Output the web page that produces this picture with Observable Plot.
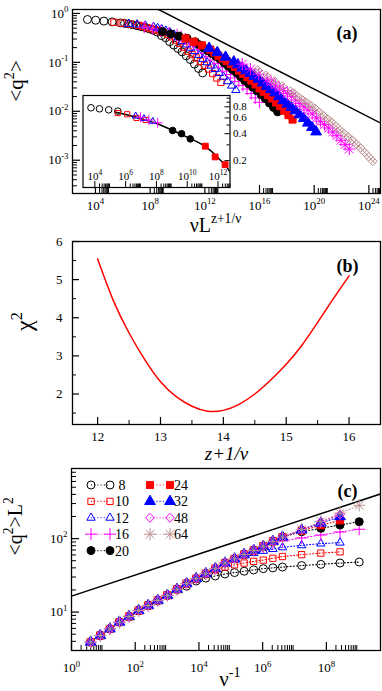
<!DOCTYPE html>
<html><head><meta charset="utf-8">
<script src="https://cdn.jsdelivr.net/npm/d3@7"></script>
<script src="https://cdn.jsdelivr.net/npm/@observablehq/plot@0.6"></script>
<style>
html,body{margin:0;padding:0;background:#fff;}
#chart{position:relative;width:382px;height:691px;background:#fff;overflow:hidden;font-family:"Liberation Serif",serif;}
#chart svg{position:absolute;left:0;overflow:visible;font-family:"Liberation Serif",serif;}
#chart svg text{font-family:"Liberation Serif",serif;}
</style></head><body><div id="chart"></div>
<script>
// ================= DATA =================
// inverse sweep rate v^-1 (x of panel c)
const vInv = [4,8,16,32,64,128,256,512,1024,2048,4096,8192,16384,32768,65536,131072,262144,524288,1048576,2097152,4194304,16777216,67108864,268435456,1073741824];
// <q^2> L^2 for each system size L (panel c)
const q8  = [3.9,4.8,5.9,7.3,8.7,10.5,12.3,14.4,16.9,20.4,22.5,26.5,29,31,33,34.5,36,37.5,39,40,41,43,44.6,46.5,48];
const q10 = [3.9,4.8,5.9,7.3,8.7,10.5,12.3,14.4,16.9,20.4,24.4,28.5,33.3,37.5,41,44,46.5,49,51,54,57,60.5,63.5,66];
const q12 = [3.9,4.8,5.9,7.3,8.7,10.5,12.3,14.4,16.9,20.4,24.4,28.5,33.3,39,46.5,53,58.5,63.5,68,72,76,81,85.5,88];
const q16 = [3.9,4.8,5.9,7.3,8.7,10.5,12.3,14.4,16.9,20.4,24.4,28.5,33.3,39,46.5,53,61,69,77,86,93,102,112,123,134];
const q20 = [3.9,4.8,5.9,7.3,8.7,10.5,12.3,14.4,16.9,20.4,24.4,28.5,33.3,39,46.5,53,61,69,78.6,91.6,105,124,138,153,170];
const q24 = [3.9,4.8,5.9,7.3,8.7,10.5,12.3,14.4,16.9,20.4,24.4,28.5,33.3,39,46.5,53,61,69,78.6,91.6,105,128,152,177];
const q32 = [3.9,4.8,5.9,7.3,8.7,10.5,12.3,14.4,16.9,20.4,24.4,28.5,33.3,39,46.5,53,61,69,78.6,91.6,105,131,163,199];
const q48 = [3.9,4.8,5.9,7.3,8.7,10.5,12.3,14.4,16.9,20.4,24.4,28.5,33.3,39,46.5,53,61,69,78.6,91.6,105,132,168,212];
const q64 = [3.9,4.8,5.9,7.3,8.7,10.5,12.3,14.4,16.9,20.4,24.4,28.5,33.3,39,46.5,53,61,69,78.6,91.6,105,133,170,222,284];
const sizesL = [8,10,12,16,20,24,32,48,64];
// exponent z+1/nu at the chi^2 minimum (panel b), used for the panel (a) abscissa
const zPlus = 13.78;
// panel b: chi^2 vs z+1/nu
const chiX = [12,12.25,12.5,12.75,13,13.25,13.5,13.75,14,14.25,14.5,14.75,15,15.25,15.5,15.75,16];
const chiY = [5.54,4.45,3.6,2.9,2.32,1.93,1.68,1.55,1.57,1.73,2.0,2.36,2.78,3.28,3.88,4.5,5.1];
// inset of panel a
const in8x  = [5.6e3,2.0e4,7.9e4,3.1e5],   in8y  = [0.78,0.76,0.74,0.715];
const in10x = [3.1e5,1.26e6,5.1e6,2.0e7],  in10y = [0.68,0.66,0.60,0.57];
const in12x = [4.5e6,1.55e7,5.8e7],        in12y = [0.63,0.59,0.55];
const in16x = [9.3e6,3.2e7,1.2e8],         in16y = [0.61,0.57,0.53];
const in20x = [1.12e9,4.3e9,1.58e10],      in20y = [0.435,0.40,0.35];
const in24x = [1.5e11,6.5e11,2.9e12],      in24y = [0.29,0.22,0.18];
const fitX = [2e5,1e6,1e7,1e8,1e9,1e10,1e11,3.2e11,1e12,3.2e12,6e12];
const fitY = [0.70,0.655,0.59,0.52,0.44,0.365,0.30,0.26,0.215,0.175,0.15];
// power-law guide lines (slope -1/7 in a, +1/7 in c)
const lineAX = [Math.pow(10,2.32), Math.pow(10,24.85)], lineAY = [Math.pow(10,0.98), Math.pow(10,-2.24)];
const lineCX = [1, 5e9], lineCY = [16.5, 405];
// tick values
const aTicksX = [1e4,1e8,1e12,1e16,1e20,1e24];
const aTicksY = [1e-3,1e-2,1e-1,1];
const insetTicksX = [1e4,1e6,1e8,1e10,1e12];
const insetTicksY = [0.2,0.4,0.6,0.8];
const bTicksX = [12,13,14,15,16];
const bTicksY = [2,3,4,5,6];
const cTicksX = [1,1e2,1e4,1e6,1e8];
const cTicksY = [10,100];
const legendCols = [[8,10,12,16,20],[24,32,48,64]];

// ================= STYLES =================
const FONT = "Liberation Serif";
const BROWN = "#bc8f8f";
const styleC = {
  8:{color:"#000",sym:"circle",fill:false}, 10:{color:"#f00",sym:"square2",fill:false},
  12:{color:"#00f",sym:"triangle2",fill:false}, 16:{color:"#f0f",sym:"plus",fill:false},
  20:{color:"#000",sym:"circle",fill:true}, 24:{color:"#f00",sym:"square",fill:true},
  32:{color:"#00f",sym:"triangle",fill:true}, 48:{color:"#f0f",sym:"diamond2",fill:false},
  64:{color:BROWN,sym:"star8",fill:false}
};
const styleA = Object.assign({}, styleC, {48:{color:"#f0f",sym:"star8",fill:false}, 64:{color:BROWN,sym:"diamondx",fill:false}});

const qBySize = [q8,q10,q12,q16,q20,q24,q32,q48,q64];
const series = sizesL.map((L, j) => ({
  L,
  rows: qBySize[j].map((c, i) => ({vinv: vInv[i], c, xs: Math.pow(L, zPlus) / vInv[i], q2: c / (L * L)}))
}));
const zipXY = (xs, ys) => xs.map((x, i) => ({x, y: ys[i]}));

const exp10 = d => "10^" + Math.round(Math.log10(d));
const minors = (majors, lo, hi) => majors.flatMap(m => [2,3,4,5,6,7,8,9].map(k => k * m)).filter(v => v > lo && v < hi);
const T = {fontFamily: FONT};

function symMarks(data, xk, yk, st, r) {
  const base = {x: xk, y: yk, r, stroke: st.color, strokeWidth: 1};
  if (st.sym === "star8") return [Plot.dot(data, {...base, symbol: "plus", fill: "none"}), Plot.dot(data, {...base, symbol: "times", fill: "none"})];
  if (st.sym === "diamondx") return [Plot.dot(data, {...base, symbol: "diamond2", fill: "none"}), Plot.dot(data, {...base, r: r * 0.6, symbol: "times", fill: "none"})];
  return [Plot.dot(data, {...base, symbol: st.sym, fill: st.fill ? st.color : "none"})];
}

function supify(svg) {
  const NS = "http://www.w3.org/2000/svg";
  svg.querySelectorAll("text").forEach(t => {
    if (t.children.length) return;
    const s = t.textContent;
    if (s.indexOf("^") < 0) return;
    const re = /\^\{([^}]*)\}|\^(-?\d+)/g;
    let last = 0, m, up = false;
    t.textContent = "";
    const push = (txt, sup) => {
      const sp = document.createElementNS(NS, "tspan");
      sp.textContent = txt;
      if (sup) { sp.style.fontSize = "68%"; sp.setAttribute("dy", "-0.62em"); up = true; }
      else if (up) { sp.setAttribute("dy", "0.42em"); up = false; }
      t.appendChild(sp);
    };
    while ((m = re.exec(s))) {
      if (m.index > last) push(s.slice(last, m.index), false);
      push(m[1] !== undefined ? m[1] : m[2], true);
      last = re.lastIndex;
    }
    if (last < s.length) push(s.slice(last), false);
  });
}

const chart = document.getElementById("chart");
function place(svg, top, left) {
  svg.style.top = top + "px";
  svg.style.left = (left || 0) + "px";
  supify(svg);
  chart.appendChild(svg);
  return svg;
}
const baseStyle = size => ({fontFamily: FONT, fontSize: size + "px", background: "transparent", color: "black", overflow: "visible"});

// ================= PANEL A =================
const aX = [Math.pow(10,2.32), Math.pow(10,24.85)], aY = [Math.pow(10,-3.68), Math.pow(10,0.08)];
const aFH = 184, aFW = 308;
const plotA = Plot.plot({
  width: 382, height: 238, marginLeft: 72, marginRight: 2, marginTop: 9, marginBottom: 45,
  x: {type: "log", domain: aX, axis: null},
  y: {type: "log", domain: aY, axis: null},
  style: baseStyle(13),
  marks: [
    Plot.tickX(aTicksX, {x: d => d, insetTop: aFH - 8, strokeWidth: 1.2}),
    Plot.tickX(minors(aTicksX, aX[0], aX[1]), {x: d => d, insetTop: aFH - 5}),
    Plot.tickY(aTicksY, {y: d => d, insetRight: aFW - 8, strokeWidth: 1.2}),
    Plot.tickY(minors([1e-4,1e-3,1e-2,1e-1], aY[0], aY[1]), {y: d => d, insetRight: aFW - 5}),
    Plot.axisX({ticks: aTicksX, tickSize: 0, tickPadding: 7, tickFormat: exp10, label: null, ...T}),
    Plot.axisY({ticks: aTicksY, tickSize: 0, tickPadding: 4, tickFormat: exp10, label: null, ...T}),
    Plot.line(zipXY(lineAX, lineAY), {x: "x", y: "y", clip: true, stroke: "black", strokeWidth: 1.5}),
    ...series.flatMap(s => symMarks(s.rows, "xs", "q2", styleA[s.L], 4)),
    Plot.frame({stroke: "black", strokeWidth: 1.3}),
    Plot.text(["<q^{2}>"], {frameAnchor: "left", dx: -56, rotate: -90, fontSize: 21, text: d => d, ...T}),
    Plot.text(["νL^{z+1/ν}"], {frameAnchor: "bottom", dx: -11, dy: 38, fontSize: 20, text: d => d, ...T}),
    Plot.text(["(a)"], {frameAnchor: "top-right", dx: -23, dy: 17, fontSize: 18, fontWeight: "bold", text: d => d, ...T})
  ]
});
place(plotA, 0);

// inset
const iX = [Math.pow(10,3.23), Math.pow(10,12.78)], iY = [0.1, 1.07];
const iFW = 147, iFH = 92;
const plotI = Plot.plot({
  width: 1.5 + iFW + 22.5, height: 2 + iFH + 2, marginLeft: 1.5, marginRight: 22.5, marginTop: 2, marginBottom: 2,
  x: {type: "log", domain: iX, axis: null},
  y: {type: "log", domain: iY, axis: null},
  style: baseStyle(11),
  marks: [
    Plot.frame({fill: "white", stroke: "none"}),
    Plot.tickX(insetTicksX, {x: d => d, insetTop: iFH - 6}),
    Plot.tickX(minors(insetTicksX, iX[0], iX[1]), {x: d => d, insetTop: iFH - 3.5}),
    Plot.tickY(insetTicksY, {y: d => d, insetLeft: iFW - 5}),
    Plot.tickY([0.3,0.5,0.7,0.9,1.0], {y: d => d, insetLeft: iFW - 3}),
    Plot.axisY({anchor: "right", ticks: insetTicksY, tickSize: 0, tickPadding: 3, tickFormat: d => d.toFixed(1), label: null, ...T}),
    Plot.text(insetTicksX, {x: d => d, frameAnchor: "bottom", dy: -8, text: exp10, ...T}),
    Plot.line(zipXY(fitX, fitY), {x: "x", y: "y", clip: true, stroke: "black", strokeWidth: 1.5, curve: "monotone-x"}),
    ...symMarks(zipXY(in8x, in8y), "x", "y", styleC[8], 3.3),
    ...symMarks(zipXY(in10x, in10y), "x", "y", styleC[10], 3.3),
    ...symMarks(zipXY(in12x, in12y), "x", "y", styleC[12], 3.3),
    ...symMarks(zipXY(in16x, in16y), "x", "y", styleC[16], 3.3),
    ...symMarks(zipXY(in20x, in20y), "x", "y", styleC[20], 3.3),
    ...symMarks(zipXY(in24x, in24y), "x", "y", styleC[24], 3.3),
    Plot.frame({stroke: "black", strokeWidth: 1.2})
  ]
});
place(plotI, 93, 81);

// ================= PANEL B =================
const plotB = Plot.plot({
  width: 382, height: 228, marginLeft: 72, marginRight: 2, marginTop: 5, marginBottom: 40,
  x: {domain: [11.6, 16.5], axis: null},
  y: {domain: [1.2, 6], axis: null},
  style: baseStyle(13),
  marks: [
    Plot.tickX(bTicksX, {x: d => d, insetTop: 183 - 7, strokeWidth: 1.2}),
    Plot.tickX([12.5,13.5,14.5,15.5], {x: d => d, insetTop: 183 - 4}),
    Plot.tickY(bTicksY, {y: d => d, insetRight: 308 - 7, strokeWidth: 1.2}),
    Plot.tickY([1.5,2.5,3.5,4.5,5.5], {y: d => d, insetRight: 308 - 4}),
    Plot.axisX({ticks: bTicksX, tickSize: 0, tickPadding: 7, tickFormat: d => String(d), label: null, ...T}),
    Plot.axisY({ticks: bTicksY, tickSize: 0, tickPadding: 10, tickFormat: d => String(d), label: null, ...T}),
    Plot.line(zipXY(chiX, chiY), {x: "x", y: "y", stroke: "#ff0000", strokeWidth: 1.5, curve: "natural"}),
    Plot.frame({stroke: "black", strokeWidth: 1.3}),
    Plot.text(["χ^{2}"], {frameAnchor: "left", dx: -48, dy: -2, rotate: -90, fontSize: 24, text: d => d, ...T}),
    Plot.text(["z+1/ν"], {frameAnchor: "bottom", dy: 35, fontSize: 19, fontStyle: "italic", text: d => d, ...T}),
    Plot.text(["(b)"], {frameAnchor: "top-right", dx: -22, dy: 18, fontSize: 18, fontWeight: "bold", text: d => d, ...T})
  ]
});
place(plotB, 236);

// ================= PANEL C =================
const cX = [1, 5e9], cY = [3, 900];
const cFH = 182, cFW = 309;
const plotC = Plot.plot({
  width: 382, height: 229, marginLeft: 71, marginRight: 2, marginTop: 6, marginBottom: 41,
  x: {type: "log", domain: cX, axis: null},
  y: {type: "log", domain: cY, axis: null},
  style: baseStyle(13),
  marks: [
    Plot.tickX(cTicksX, {x: d => d, insetTop: cFH - 8, strokeWidth: 1.2}),
    Plot.tickX(minors(cTicksX, cX[0], cX[1]), {x: d => d, insetTop: cFH - 5}),
    Plot.tickY(cTicksY, {y: d => d, insetRight: cFW - 8, strokeWidth: 1.2}),
    Plot.tickY(minors([1,10,100], cY[0], cY[1]), {y: d => d, insetRight: cFW - 5}),
    Plot.axisX({ticks: cTicksX, tickSize: 0, tickPadding: 12.5, tickFormat: exp10, label: null, ...T}),
    Plot.axisY({ticks: cTicksY, tickSize: 0, tickPadding: 4, tickFormat: exp10, label: null, ...T}),
    Plot.line(zipXY(lineCX, lineCY), {x: "x", y: "y", clip: true, stroke: "black", strokeWidth: 1.5}),
    ...series.map(s => Plot.line(s.rows, {x: "vinv", y: "c", stroke: styleC[s.L].color, strokeWidth: 1.1, strokeDasharray: "1,2.2"})),
    ...series.flatMap(s => symMarks(s.rows, "vinv", "c", styleC[s.L], 4)),
    Plot.frame({stroke: "black", strokeWidth: 1.3}),
    Plot.text(["<q^{2}>L^{2}"], {frameAnchor: "left", dx: -56, dy: -4, rotate: -90, fontSize: 20, text: d => d, ...T}),
    Plot.text(["ν^{-1}"], {frameAnchor: "bottom", dx: 4, dy: 35, fontSize: 21, text: d => d, ...T}),
    Plot.text(["(c)"], {frameAnchor: "top-right", dx: -23, dy: 16, fontSize: 18, fontWeight: "bold", text: d => d, ...T})
  ]
});
place(plotC, 462);

// legend of panel c (drawn into its svg)
(function () {
  const symType = {
    circle: d3.symbolCircle, square2: d3.symbolSquare2 || d3.symbolSquare, triangle2: d3.symbolTriangle2 || d3.symbolTriangle,
    plus: d3.symbolPlus || d3.symbolCross, square: d3.symbolSquare, triangle: d3.symbolTriangle,
    diamond2: d3.symbolDiamond2 || d3.symbolDiamond, times: d3.symbolTimes || d3.symbolCross
  };
  const g = d3.select(plotC).append("g").attr("font-family", FONT).attr("font-size", 14);
  const cols = [{x1: 91, x2: 110, tx: 122}, {x1: 150, x2: 170, tx: 181}];
  const size = Math.PI * 16;
  const drawSym = (st, x, y) => {
    const types = st.sym === "star8" ? ["plus", "times"] : [st.sym];
    types.forEach(tp => {
      g.append("path").attr("d", d3.symbol(symType[tp], size)()).attr("transform", `translate(${x},${y})`)
        .attr("fill", st.fill ? st.color : "none").attr("stroke", st.color).attr("stroke-width", 1);
    });
  };
  legendCols.forEach((Ls, ci) => Ls.forEach((L, ri) => {
    const y = 23 + ri * 16.4, c = cols[ci], st = styleC[L];
    g.append("line").attr("x1", c.x1).attr("x2", c.x2).attr("y1", y).attr("y2", y)
      .attr("stroke", st.color).attr("stroke-width", 1.1).attr("stroke-dasharray", "1,2.2");
    drawSym(st, c.x1, y); drawSym(st, c.x2, y);
    g.append("text").attr("x", c.tx).attr("y", y).attr("dy", "0.35em").attr("fill", "black").text(L);
  }));
})();
</script></body></html>
